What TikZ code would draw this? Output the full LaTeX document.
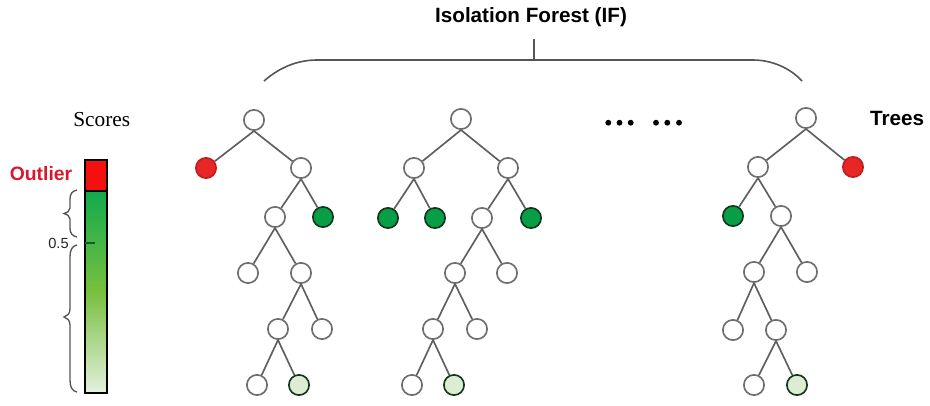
\documentclass[tikz,border=0pt]{standalone}
\usepackage{fontspec}
\setmainfont{Liberation Sans}
\newfontfamily\scorefont{Liberation Serif}
\definecolor{nodegray}{RGB}{110,110,110}
\definecolor{edgegray}{RGB}{95,95,95}
\definecolor{bracegray}{RGB}{85,85,85}
\definecolor{leafred}{RGB}{232,38,38}
\definecolor{leafredline}{RGB}{190,30,30}
\definecolor{leafgreen}{RGB}{8,158,72}
\definecolor{leafgreenline}{RGB}{20,55,30}
\definecolor{leafpale}{RGB}{222,236,212}
\definecolor{outlierred}{RGB}{214,24,48}
\definecolor{barred}{RGB}{245,15,15}
\definecolor{bartop}{RGB}{18,170,76}
\definecolor{barmid}{RGB}{120,192,62}
\definecolor{barbottom}{RGB}{228,240,222}
\definecolor{tickgreen}{RGB}{20,90,40}
\begin{document}
\begin{tikzpicture}[x=0.75pt,y=-0.75pt,
  tn/.style={circle, draw=nodegray, line width=1.25pt, fill=white, minimum size=15.2pt, inner sep=0pt},
  redleaf/.style={tn, fill=leafred, draw=leafredline},
  greenleaf/.style={tn, fill=leafgreen, draw=leafgreenline},
  paleleaf/.style={tn, fill=leafpale, draw=leafgreenline},
  edge/.style={draw=edgegray, line width=1.25pt},
  bracestroke/.style={draw=bracegray, line width=1.2pt},
  dotmark/.style={circle, fill=black, minimum size=4.4pt, inner sep=0pt},
  sanslabel/.style={font=\bfseries\fontsize{15.5}{18}\selectfont}]
\useasboundingbox (0,0) rectangle (930,405);

% ---- title and the brace over the forest ----
\node[sanslabel] (title) at (531,17) {Isolation Forest (IF)};
\coordinate (bracetip) at (534,39);
\coordinate (bracemid) at (534,60);
\draw[bracestroke] (264,81) .. controls (280,67) and (298,60) .. (317,60)
   -- (753,60) .. controls (772,60) and (790,68) .. (802,81);
\draw[bracestroke] (bracetip) -- (bracemid);

% ---- score bar ----
\node[font=\scorefont\fontsize{16}{19}\selectfont] (scores) at (101.7,120) {Scores};
\node[font=\bfseries\fontsize{14.5}{17}\selectfont, text=outlierred] (outlier) at (41,174) {Outlier};
\fill[barred] (85,160) rectangle (107,191);
\shade[top color=bartop, bottom color=barmid] (85,191) rectangle (107,292);
\shade[top color=barmid, bottom color=barbottom] (85,292) rectangle (107,393);
\draw[line width=1.2pt] (85,191) -- (107,191);
\draw[line width=1.2pt] (85,160) rectangle (107,393);
\draw[tickgreen, line width=1.3pt] (85,243) -- (95,243);
\node[font=\fontsize{11}{13}\selectfont, text=black!85] (half) at (58.5,243) {0.5};
% braces beside the bar
\draw[bracestroke, line width=1pt] (77,190) .. controls (72,191) and (70,194) .. (70,199)
   -- (70,208) .. controls (70,211) and (67,213) .. (64,213.5)
   .. controls (67,214) and (70,216) .. (70,219)
   -- (70,228) .. controls (70,233) and (72,236) .. (77,237);
\draw[bracestroke, line width=1pt] (77,245) .. controls (72,246) and (70,250) .. (70,257)
   -- (70,309) .. controls (70,314) and (67,316) .. (64,317)
   .. controls (67,318) and (70,320) .. (70,325)
   -- (70,380) .. controls (70,387) and (72,391) .. (77,392);

% ---- tree 1 ----
\node[tn] (a0) at (254,120) {};
\node[redleaf] (a1) at (206,168) {};
\node[tn] (a2) at (301,168) {};
\node[tn] (a3) at (275,217) {};
\node[greenleaf] (a4) at (323,217) {};
\node[tn] (a5) at (248,273) {};
\node[tn] (a6) at (301,273) {};
\node[tn] (a7) at (278,329) {};
\node[tn] (a8) at (322,329) {};
\node[tn] (a9) at (257,385) {};
\node[paleleaf] (a10) at (299,385) {};
\foreach \p/\c in {a0/a1,a0/a2,a2/a3,a2/a4,a3/a5,a3/a6,a6/a7,a6/a8,a7/a9,a7/a10}
  \draw[edge] (\p.south) -- (\c);

% ---- tree 2 ----
\node[tn] (b0) at (461,119) {};
\node[tn] (b1) at (414,168) {};
\node[tn] (b2) at (508,168) {};
\node[greenleaf] (b3) at (388,218) {};
\node[greenleaf] (b4) at (435,218) {};
\node[tn] (b5) at (482,218) {};
\node[greenleaf] (b6) at (531,218) {};
\node[tn] (b7) at (455,273) {};
\node[tn] (b8) at (507,273) {};
\node[tn] (b9) at (433,329) {};
\node[tn] (b10) at (477,329) {};
\node[tn] (b11) at (412,385) {};
\node[paleleaf] (b12) at (454,385) {};
\foreach \p/\c in {b0/b1,b0/b2,b1/b3,b1/b4,b2/b5,b2/b6,b5/b7,b5/b8,b7/b9,b7/b10,b9/b11,b9/b12}
  \draw[edge] (\p.south) -- (\c);

% ---- ellipsis between trees ----
\foreach \i/\x in {1/608.3,2/619.5,3/630.7,4/656,5/667.3,6/679}
  \node[dotmark] (dot\i) at (\x,122.7) {};

% ---- tree 3 ----
\node[tn] (c0) at (806,118) {};
\node[tn] (c1) at (758,167) {};
\node[redleaf] (c2) at (853,167) {};
\node[greenleaf] (c3) at (733,216) {};
\node[tn] (c4) at (781,216) {};
\node[tn] (c5) at (754,272) {};
\node[tn] (c6) at (807,272) {};
\node[tn] (c7) at (733,330) {};
\node[tn] (c8) at (776,330) {};
\node[tn] (c9) at (754,385) {};
\node[paleleaf] (c10) at (797,385) {};
\foreach \p/\c in {c0/c1,c0/c2,c1/c3,c1/c4,c4/c5,c4/c6,c5/c7,c5/c8,c8/c9,c8/c10}
  \draw[edge] (\p.south) -- (\c);

\node[sanslabel] (trees) at (897,118) {Trees};
\end{tikzpicture}
\end{document}
